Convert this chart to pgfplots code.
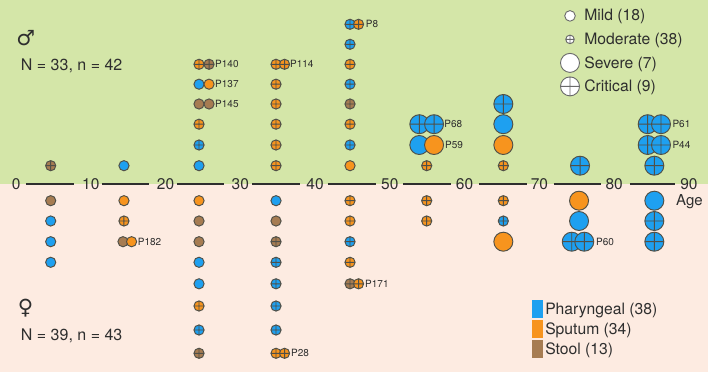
\documentclass[border=0pt]{standalone}
\usepackage{pgfplots}
\usepackage{pgfplotstable}
\pgfplotsset{compat=1.18}
\usepackage{fontspec}
\setmainfont{TeX Gyre Heros}
\newfontfamily\symfont{DejaVu Sans}
\definecolor{cBlue}{HTML}{1EA0F0}
\definecolor{cOrange}{HTML}{F7941E}
\definecolor{cBrown}{HTML}{A67C52}
\definecolor{cEdge}{HTML}{505048}
\definecolor{cGreen}{HTML}{D4E6A8}
\definecolor{cPink}{HTML}{FDEBE1}
\definecolor{cText}{HTML}{2E2E2E}
\definecolor{cLeg}{HTML}{6A6A6A}

% x = age position, y = offset from axis line (pt), c = sample/severity class
\pgfplotstableread{
x y c
4.63 18.3 tmo
14.43 18.3 pmi
24.47 18.3 pmi
24.47 39.0 pmo
24.47 59.8 smo
24.47 80.0 tmi
25.81 80.0 tmi
24.47 99.8 pmi
25.81 99.8 smi
24.47 119.7 smo
25.81 119.7 tmo
34.77 18.3 smo
34.77 39.0 smo
34.77 59.8 smo
34.77 80.0 smo
34.77 99.8 smo
34.77 119.7 smo
35.91 119.7 smo
44.67 18.3 smi
44.67 39.0 pmo
44.67 59.8 smo
44.67 80.0 tmo
44.67 99.8 pmo
44.67 119.7 smo
44.67 139.7 pmo
44.67 159.7 pmo
45.81 159.7 smo
54.93 18.3 smo
53.94 39.0 pse
55.91 39.0 sse
53.94 59.8 pcr
55.91 59.8 pcr
65.18 18.3 smo
65.18 39.0 sse
65.18 59.8 pse
65.18 80.0 pcr
75.44 18.3 pcr
85.38 18.3 pcr
84.49 39.0 pcr
86.27 39.0 pcr
84.49 59.8 pcr
86.27 59.8 pcr
}\maletab

\pgfplotstableread{
x y c
4.63 -16.7 tmi
4.63 -37.0 pmi
4.63 -57.7 pmi
4.63 -78.3 pmi
14.43 -16.7 smi
14.43 -37.0 smo
14.30 -57.7 tmi
15.45 -57.7 smi
24.47 -16.7 smi
24.47 -37.0 tmi
24.47 -57.7 tmi
24.47 -78.3 pmi
24.47 -99.8 pmi
24.47 -122.0 smo
24.47 -146.0 pmo
24.47 -169.3 tmo
34.77 -16.7 pmi
34.77 -37.0 tmi
34.77 -57.7 tmo
34.77 -78.3 pmo
34.77 -99.8 pmo
34.77 -122.0 pmo
34.77 -146.0 pmo
34.77 -169.3 smo
35.91 -169.3 smo
44.67 -16.7 smo
44.67 -37.0 smo
44.67 -57.7 pmo
44.67 -78.3 smo
44.67 -99.8 tmo
45.81 -99.8 smo
54.93 -16.7 smo
54.93 -37.0 smo
65.18 -16.7 smo
65.18 -37.0 pmo
65.18 -57.7 sse
75.31 -16.7 sse
75.31 -37.0 pse
74.33 -57.7 pcr
76.01 -57.7 pcr
85.38 -16.7 pse
85.38 -37.0 pcr
85.38 -57.7 pcr
}\femaletab

\pgfplotsset{
  dotplot/.style={
    scatter, only marks, forget plot,
    scatter src=explicit symbolic,
    scatter/classes={
      pmi={mark=*, mark size=5.1pt, fill=cBlue, draw=cEdge, line width=0.95pt},
      pmo={mark=oplus*, mark size=5.1pt, fill=cBlue, draw=cEdge, line width=0.95pt},
      pse={mark=*, mark size=9.5pt, fill=cBlue, draw=cEdge, line width=0.95pt},
      pcr={mark=oplus*, mark size=9.5pt, fill=cBlue, draw=cEdge, line width=0.95pt},
      smi={mark=*, mark size=5.1pt, fill=cOrange, draw=cEdge, line width=0.95pt},
      smo={mark=oplus*, mark size=5.1pt, fill=cOrange, draw=cEdge, line width=0.95pt},
      sse={mark=*, mark size=9.5pt, fill=cOrange, draw=cEdge, line width=0.95pt},
      scr={mark=oplus*, mark size=9.5pt, fill=cOrange, draw=cEdge, line width=0.95pt},
      tmi={mark=*, mark size=5.1pt, fill=cBrown, draw=cEdge, line width=0.95pt},
      tmo={mark=oplus*, mark size=5.1pt, fill=cBrown, draw=cEdge, line width=0.95pt}
    }
  },
  seg/.style={forget plot, draw=cText, line width=1.5pt},
}
\tikzset{
  tlab/.style={font=\fontsize{15.5}{16}\selectfont, text=cText, inner sep=0pt},
  plab/.style={font=\fontsize{10}{11}\selectfont, text=cText, inner sep=0pt, anchor=west},
}

\begin{document}
\begin{tikzpicture}
\begin{axis}[
  at={(0,0)}, anchor=south west,
  width=708pt, height=372pt, scale only axis,
  xmin=-2.154, xmax=92.56, ymin=-188, ymax=184,
  hide axis, clip=false,
  legend style={at={(axis cs:72.80,180.05)}, anchor=north west,
    draw=none, fill=none, inner xsep=0pt, inner ysep=0pt,
    row sep=0pt, column sep=4.8pt,
    font=\fontsize{15.7}{18}\selectfont,
    nodes={inner sep=0pt, minimum height=23.5pt, text=cText},
    cells={anchor=west}},
  legend image code/.code={\draw[#1] plot coordinates {(0pt,0pt)};},
]
\fill[cPink] (axis cs:-2.154,-188) rectangle (axis cs:92.56,0);
\fill[cGreen] (axis cs:-2.154,0) rectangle (axis cs:92.56,184);

\addplot[seg] coordinates {(1.3,0) (7.75,0)};
\addplot[seg] coordinates {(11.45,0) (17.8,0)};
\addplot[seg] coordinates {(21.5,0) (27.85,0)};
\addplot[seg] coordinates {(31.6,0) (38.0,0)};
\addplot[seg] coordinates {(41.7,0) (48.1,0)};
\addplot[seg] coordinates {(51.8,0) (58.15,0)};
\addplot[seg] coordinates {(61.9,0) (68.3,0)};
\addplot[seg] coordinates {(71.9,0) (78.25,0)};
\addplot[seg] coordinates {(82.1,0) (88.15,0)};

\node[tlab] at (axis cs:0,0) {0};
\node[tlab] at (axis cs:10,0) {10};
\node[tlab] at (axis cs:20,0) {20};
\node[tlab] at (axis cs:30,0) {30};
\node[tlab] at (axis cs:40,0) {40};
\node[tlab] at (axis cs:50,0) {50};
\node[tlab] at (axis cs:60,0) {60};
\node[tlab] at (axis cs:70,0) {70};
\node[tlab] at (axis cs:80,0) {80};
\node[tlab] at (axis cs:90,0) {90};
\node[anchor=base west, inner sep=0pt, text=cText, font=\fontsize{15}{16}\selectfont] at (axis cs:88.28,-21.3) {Age};

\addplot[dotplot] table[x=x, y=y, meta=c] {\maletab};
\addplot[dotplot] table[x=x, y=y, meta=c] {\femaletab};

\node[plab] at (axis cs:26.61,119.7) {P140};
\node[plab] at (axis cs:26.61,99.8) {P137};
\node[plab] at (axis cs:26.61,80.0) {P145};
\node[plab] at (axis cs:36.64,119.7) {P114};
\node[plab] at (axis cs:46.77,159.7) {P8};
\node[plab] at (axis cs:57.28,59.8) {P68};
\node[plab] at (axis cs:57.38,39.0) {P59};
\node[plab] at (axis cs:87.79,59.8) {P61};
\node[plab] at (axis cs:87.79,39.0) {P44};
\node[plab] at (axis cs:16.27,-57.7) {P182};
\node[plab] at (axis cs:36.78,-169.3) {P28};
\node[plab] at (axis cs:46.68,-99.8) {P171};
\node[plab] at (axis cs:77.58,-57.7) {P60};

\node[inner sep=0pt, text=cText, font=\symfont\fontsize{21}{22}\selectfont] at (axis cs:1.28,145.8) {♂};
\node[anchor=base west, inner sep=0pt, text=cText, font=\fontsize{16}{18}\selectfont] at (axis cs:0.62,113.3) {N = 33, n = 42};
\node[inner sep=0pt, text=cText, font=\symfont\fontsize{21}{22}\selectfont] at (axis cs:1.28,-124.3) {♀};
\node[anchor=base west, inner sep=0pt, text=cText, font=\fontsize{16}{18}\selectfont] at (axis cs:0.62,-156) {N = 39, n = 43};

\addlegendimage{mark=*, mark size=5.3pt, fill=white, draw=cLeg, line width=0.9pt}
\addlegendentry{Mild (18)}
\addlegendimage{mark=oplus*, mark size=4.3pt, fill=white, draw=cLeg, line width=0.9pt}
\addlegendentry{Moderate (38)}
\addlegendimage{mark=*, mark size=9.5pt, fill=white, draw=cLeg, line width=0.9pt}
\addlegendentry{Severe (7)}
\addlegendimage{mark=oplus*, mark size=9.5pt, fill=white, draw=cLeg, line width=0.9pt}
\addlegendentry{Critical (9)}
\end{axis}

\begin{axis}[
  at={(0,0)}, anchor=south west,
  width=708pt, height=372pt, scale only axis,
  xmin=-2.154, xmax=92.56, ymin=-188, ymax=184,
  hide axis, clip=false,
  legend style={at={(axis cs:69.02,-115)}, anchor=north west,
    draw=none, fill=none, inner xsep=0pt, inner ysep=0pt,
    row sep=0pt, column sep=2.3pt,
    font=\fontsize{15.7}{18}\selectfont,
    nodes={inner sep=0pt, minimum height=20pt, text=cText},
    cells={anchor=west}},
  legend image code/.code={\fill[#1] (0pt,-9.15pt) rectangle (10.7pt,9.15pt);},
]
\addlegendimage{fill=cBlue, draw=none}
\addlegendentry{Pharyngeal (38)}
\addlegendimage{fill=cOrange, draw=none}
\addlegendentry{Sputum (34)}
\addlegendimage{fill=cBrown, draw=none}
\addlegendentry{Stool (13)}
\end{axis}
\end{tikzpicture}
\end{document}
